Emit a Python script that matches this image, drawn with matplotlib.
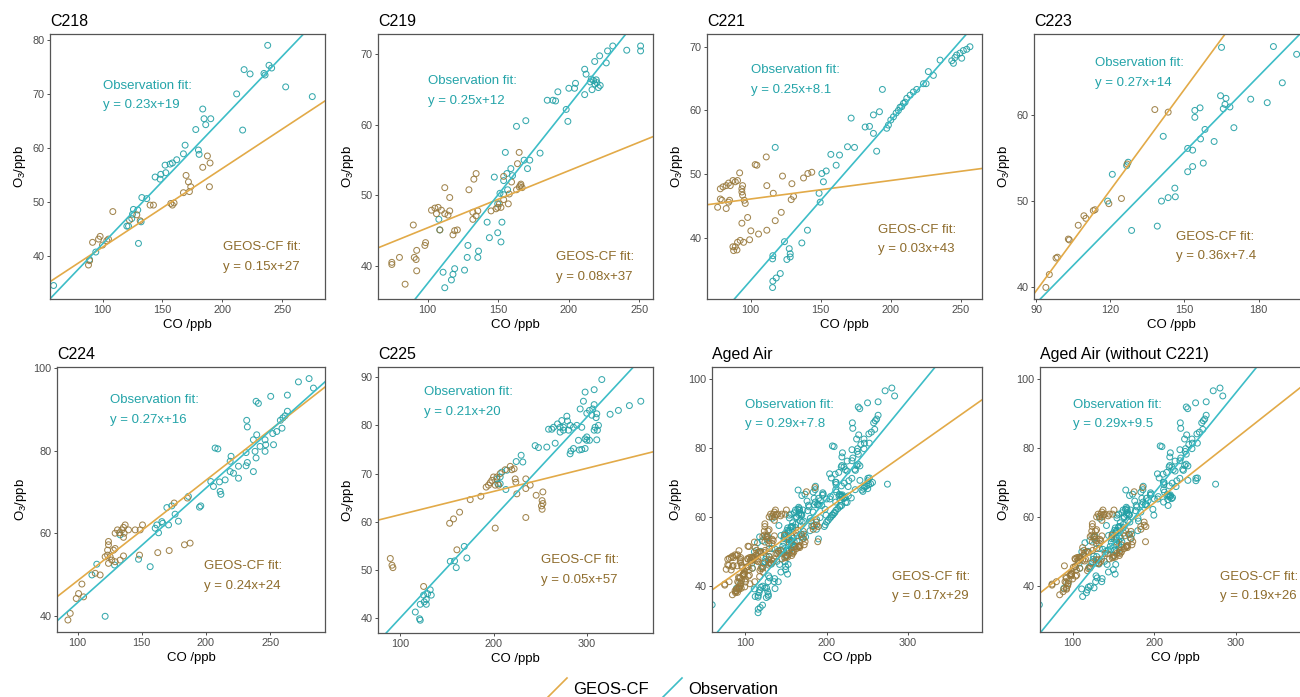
import numpy as np
import matplotlib
matplotlib.use("Agg")
import matplotlib.pyplot as plt
from matplotlib.lines import Line2D

plt.rcParams['font.family'] = ['Liberation Sans', 'DejaVu Sans']
plt.rcParams['mathtext.default'] = 'regular'

########## DATA
# (CO ppb, O3 ppb) pairs, observation and GEOS-CF
C218_OBS = [(237.8, 79.0), (238.9, 75.3), (241.1, 74.8), (218.1, 74.5), (223.1, 73.7), (234.7, 73.8),
            (235.6, 73.5), (252.8, 71.3), (275.0, 69.5), (211.9, 70.0), (216.9, 63.3), (183.6, 67.2),
            (184.7, 65.4), (186.1, 64.3), (190.3, 65.4), (177.8, 63.4), (168.9, 60.5), (167.5, 58.9),
            (180.0, 59.6), (180.6, 58.8), (161.9, 57.8), (158.3, 57.2), (156.4, 57.0), (152.2, 56.8),
            (152.8, 55.4), (148.6, 55.1), (148.1, 54.2), (143.9, 54.6), (136.9, 50.6), (132.8, 50.8),
            (125.8, 48.6), (125.0, 47.7), (124.4, 46.9), (120.3, 45.5), (121.7, 45.5), (132.2, 46.3),
            (130.0, 42.3), (94.4, 40.7), (89.2, 39.3), (59.2, 34.5), (129.4, 48.5)]
C218_GEOS = [(187.5, 58.5), (189.7, 57.2), (183.6, 56.4), (169.7, 54.9), (171.7, 53.7), (173.6, 52.8),
             (167.5, 51.7), (172.5, 51.9), (189.2, 52.8), (157.0, 49.7), (159.7, 49.8), (158.3, 49.4),
             (142.5, 49.4), (139.7, 49.4), (108.6, 48.2), (128.6, 47.6), (131.4, 46.5), (122.5, 46.6),
             (91.7, 42.5), (98.0, 43.6), (96.7, 43.1), (100.0, 42.0), (103.6, 42.8), (105.0, 43.1),
             (89.2, 39.1), (88.3, 38.3)]

C219_OBS = [(231.2, 71.2), (241.1, 70.6), (250.9, 71.2), (250.9, 70.5), (227.5, 70.5), (226.6, 68.8),
            (218.4, 69.0), (221.9, 69.8), (211.3, 67.9), (212.3, 67.2), (211.3, 64.3), (215.3, 66.1),
            (217.6, 66.3), (220.0, 66.0), (222.3, 65.6), (216.5, 65.0), (218.5, 65.8), (219.5, 66.4),
            (216.0, 66.5), (221.0, 65.3), (204.1, 65.2), (204.8, 65.9), (200.1, 65.2), (198.2, 62.2),
            (199.4, 60.5), (192.3, 64.7), (190.7, 63.4), (184.8, 63.5), (188.8, 63.5), (163.0, 59.8),
            (169.6, 60.6), (179.7, 56.0), (155.1, 56.1), (172.4, 55.0), (168.4, 55.0), (170.8, 53.8),
            (147.3, 52.6), (156.2, 53.1), (159.0, 53.8), (160.2, 52.8), (153.9, 52.1), (151.3, 50.3),
            (153.9, 50.1), (156.7, 50.8), (149.7, 48.8), (142.2, 46.2), (152.7, 46.2), (149.7, 44.7),
            (152.0, 43.4), (143.8, 44.0), (128.6, 42.9), (128.1, 41.2), (136.1, 42.1), (135.6, 41.2),
            (126.2, 39.4), (119.2, 39.6), (118.0, 38.8), (116.9, 38.0), (112.2, 36.9), (111.0, 39.1),
            (108.0, 46.6), (108.7, 45.1)]
C219_GEOS = [(164.9, 56.1), (153.9, 52.7), (163.7, 54.5), (159.5, 51.9), (166.1, 51.6), (165.0, 51.2),
             (166.0, 51.4), (163.0, 50.8), (167.0, 51.1), (157.9, 50.2), (157.2, 48.8), (153.9, 49.4),
             (149.7, 48.3), (150.9, 48.8), (152.0, 48.3), (148.5, 48.1), (145.0, 47.8), (134.4, 53.1),
             (132.8, 52.3), (129.3, 50.8), (112.2, 51.1), (115.7, 49.7), (107.5, 48.3), (109.8, 47.9),
             (102.8, 47.9), (105.2, 48.2), (106.3, 47.4), (112.2, 47.4), (115.7, 47.8), (114.5, 47.2),
             (132.1, 47.6), (135.6, 47.8), (134.4, 47.1), (132.1, 46.6), (119.2, 45.0), (121.1, 45.1),
             (118.0, 44.4), (108.7, 45.1), (89.9, 45.8), (98.6, 43.3), (98.1, 42.9), (92.3, 42.2),
             (90.6, 41.2), (91.9, 40.9), (80.1, 41.2), (74.7, 40.5), (74.7, 40.2), (84.1, 37.4),
             (92.3, 39.3)]

C221_OBS = [(256.6, 70.0), (254.3, 69.6), (251.9, 69.4), (249.5, 69.0), (247.1, 68.7), (245.9, 68.3),
            (243.6, 67.8), (244.8, 67.4), (250.7, 68.2), (235.3, 67.9), (230.5, 65.5), (226.9, 66.1),
            (225.3, 64.2), (223.4, 64.2), (218.6, 63.3), (216.2, 62.9), (213.9, 62.4), (211.5, 61.9),
            (210.3, 61.3), (209.1, 61.1), (207.9, 60.6), (206.7, 60.5), (205.5, 60.0), (203.9, 59.6),
            (202.0, 59.0), (200.1, 58.5), (198.4, 57.7), (197.2, 57.2), (194.1, 63.3), (192.0, 59.8),
            (187.7, 59.3), (184.9, 57.5), (181.8, 57.4), (187.7, 56.4), (190.0, 53.6), (171.8, 58.8),
            (169.2, 54.3), (174.2, 54.2), (163.5, 53.0), (157.3, 53.1), (161.1, 51.4), (154.0, 50.5),
            (150.9, 50.1), (152.0, 48.8), (148.9, 47.0), (149.7, 45.6), (140.6, 41.2), (136.6, 39.2),
            (124.2, 39.4), (127.6, 38.3), (128.3, 37.5), (128.3, 37.0), (125.9, 36.6), (115.9, 37.2),
            (115.7, 36.7), (117.6, 54.2), (121.2, 34.4), (118.3, 33.7), (115.9, 33.2), (115.7, 32.2)]
C221_GEOS = [(76.5, 44.8), (78.4, 46.1), (79.6, 45.9), (78.4, 47.7), (80.3, 48.0), (82.6, 48.2),
             (84.3, 48.6), (85.5, 48.2), (87.4, 49.0), (89.1, 48.8), (90.7, 49.0), (92.2, 50.2),
             (93.8, 47.7), (94.3, 48.2), (93.8, 47.2), (94.3, 46.7), (95.5, 45.9), (96.2, 45.4),
             (84.3, 45.6), (82.6, 44.6), (85.0, 45.9), (93.8, 42.3), (97.9, 43.2), (100.2, 41.1),
             (99.3, 39.7), (92.6, 39.6), (95.0, 39.3), (90.7, 39.3), (89.1, 38.6), (87.9, 38.0),
             (87.4, 38.6), (90.3, 38.1), (105.7, 40.6), (111.6, 41.2), (111.6, 48.2), (111.2, 52.7),
             (103.3, 51.5), (104.5, 51.4), (116.2, 47.0), (117.6, 42.7), (121.9, 44.0), (122.8, 49.7),
             (129.5, 48.5), (130.7, 46.5), (129.0, 46.0), (137.8, 49.4), (140.9, 50.1), (143.7, 50.3)]

C223_OBS = [(165.0, 67.8), (186.0, 67.9), (195.4, 67.0), (189.6, 63.7), (164.6, 62.2), (166.8, 61.9),
            (166.4, 61.2), (165.7, 60.7), (168.4, 60.9), (176.8, 61.8), (183.5, 61.4), (156.3, 60.8),
            (154.2, 60.5), (154.2, 59.7), (158.3, 58.3), (170.0, 58.5), (162.0, 56.9), (156.5, 57.2),
            (141.4, 57.5), (151.3, 56.1), (153.3, 55.9), (157.6, 54.4), (153.3, 54.0), (151.3, 53.4),
            (146.1, 51.5), (146.3, 50.5), (143.4, 50.4), (140.7, 50.0), (139.0, 47.1), (128.6, 46.6),
            (120.8, 53.1), (127.2, 54.5), (126.6, 54.1), (118.9, 50.0)]
C223_GEOS = [(138.0, 60.6), (143.4, 60.3), (126.8, 54.3), (124.5, 50.3), (119.4, 49.7), (113.8, 49.0),
             (113.1, 48.9), (109.3, 48.3), (110.1, 48.0), (107.0, 47.2), (103.0, 45.6), (103.4, 45.5),
             (98.6, 43.5), (98.0, 43.4), (95.3, 41.5), (93.9, 40.0)]

C224_OBS = [(280.4, 97.4), (272.1, 96.6), (283.8, 95.1), (263.5, 93.4), (250.5, 93.1), (239.1, 91.9),
            (240.9, 91.4), (231.8, 87.3), (232.3, 85.7), (263.5, 89.5), (261.7, 88.4), (260.0, 87.9),
            (258.0, 87.3), (259.3, 85.4), (252.1, 84.1), (255.2, 84.6), (239.6, 83.8), (237.0, 82.6),
            (242.2, 81.0), (246.1, 82.6), (246.6, 81.4), (252.7, 81.4), (246.1, 79.8), (238.3, 79.8),
            (239.1, 78.2), (231.3, 79.5), (232.3, 77.1), (231.3, 76.3), (237.0, 74.9), (225.4, 76.2),
            (218.9, 77.4), (219.6, 78.6), (207.2, 80.6), (209.3, 80.4), (218.9, 74.9), (221.5, 74.5),
            (225.4, 73.3), (215.0, 72.9), (203.8, 72.5), (205.9, 71.3), (210.6, 72.4), (211.1, 70.1),
            (211.7, 69.4), (196.0, 66.6), (195.0, 66.3), (186.4, 68.9), (173.4, 66.6), (169.6, 66.2),
            (165.7, 62.8), (166.4, 62.4), (161.8, 62.0), (170.9, 62.0), (178.6, 62.9), (163.1, 60.1),
            (160.5, 61.2), (156.6, 51.9), (147.5, 53.7), (128.8, 52.3), (115.0, 52.5), (111.2, 49.9),
            (121.5, 39.9), (176.0, 64.6), (133.2, 59.6)]
C224_GEOS = [(185.6, 68.5), (175.3, 67.3), (187.7, 57.6), (183.3, 57.2), (171.4, 55.8), (162.5, 55.3),
             (148.3, 54.7), (148.8, 60.8), (144.9, 60.8), (139.7, 60.8), (135.8, 61.4), (134.5, 60.8),
             (132.7, 60.1), (136.3, 60.0), (131.1, 60.8), (129.3, 60.0), (135.8, 59.0), (137.1, 62.0),
             (150.6, 62.0), (124.1, 58.0), (124.1, 57.2), (123.4, 55.9), (123.4, 54.7), (121.5, 54.3),
             (125.4, 54.3), (128.0, 55.9), (129.3, 56.3), (124.1, 52.7), (126.7, 53.5), (129.3, 53.1),
             (135.8, 54.5), (133.2, 53.5), (117.6, 49.9), (113.8, 50.3), (103.4, 47.7), (100.8, 45.4),
             (99.0, 44.2), (104.7, 44.6), (94.3, 40.6), (92.5, 39.0)]

C225_OBS = [(316.1, 89.5), (298.2, 86.9), (307.9, 87.4), (296.4, 85.0), (357.9, 85.0), (345.7, 84.1),
            (333.9, 83.1), (325.0, 82.3), (292.9, 83.4), (307.9, 84.3), (306.4, 83.4), (302.9, 83.1),
            (300.0, 82.5), (310.7, 82.4), (305.4, 82.1), (310.0, 81.6), (278.6, 81.9), (273.2, 81.0),
            (279.3, 80.9), (268.6, 80.3), (264.3, 79.6), (259.0, 79.2), (262.5, 79.2), (271.4, 79.6),
            (275.0, 79.6), (282.1, 80.0), (285.7, 79.6), (289.3, 80.0), (294.6, 79.6), (271.4, 78.6),
            (275.0, 79.0), (280.4, 79.0), (312.5, 80.0), (308.9, 79.6), (307.9, 79.0), (311.4, 79.0),
            (300.0, 77.6), (300.0, 76.9), (298.2, 77.2), (302.9, 76.9), (291.1, 76.9), (310.7, 77.0),
            (292.1, 74.9), (294.6, 75.0), (298.2, 75.2), (283.0, 74.7), (285.7, 75.2), (282.1, 74.1),
            (266.1, 76.3), (257.1, 75.5), (244.6, 75.8), (248.2, 75.4), (229.6, 73.8), (231.4, 72.4),
            (224.3, 72.5), (214.3, 70.7), (208.9, 70.3), (207.1, 69.3), (203.6, 68.9), (207.1, 67.9),
            (204.6, 67.9), (213.2, 66.7), (171.4, 52.5), (168.6, 54.9), (158.2, 51.9), (153.6, 51.8),
            (160.0, 50.5), (132.1, 45.9), (133.2, 44.8), (129.3, 45.1), (127.9, 43.9), (125.7, 43.4),
            (127.9, 42.9), (121.4, 42.9), (125.0, 44.8), (116.1, 41.3), (120.7, 39.9), (121.4, 39.6)]
C225_GEOS = [(212.5, 70.8), (217.9, 71.5), (219.6, 70.8), (222.1, 71.0), (207.1, 70.0), (203.6, 69.3),
             (200.0, 69.3), (198.2, 68.6), (196.4, 68.1), (194.6, 67.6), (192.1, 67.2), (201.8, 67.6),
             (205.4, 67.6), (223.2, 68.9), (223.9, 68.2), (234.6, 68.9), (239.3, 67.6), (234.6, 66.9),
             (225.0, 65.8), (245.7, 65.5), (252.9, 66.2), (252.1, 64.4), (252.9, 63.8), (251.4, 63.3),
             (252.1, 62.6), (234.6, 60.9), (201.8, 58.7), (186.4, 65.3), (175.0, 64.6), (163.6, 62.0),
             (157.1, 60.6), (152.9, 59.7), (160.7, 54.2), (125.0, 46.6), (89.3, 52.4), (91.1, 51.0),
             (92.1, 50.5)]

# aged air = all aged-air flights pooled
AGED_OBS = C218_OBS + C219_OBS + C221_OBS + C223_OBS + C224_OBS
AGED_GEOS = C218_GEOS + C219_GEOS + C221_GEOS + C223_GEOS + C224_GEOS
AGED_NO221_OBS = C218_OBS + C219_OBS + C223_OBS + C224_OBS
AGED_NO221_GEOS = C218_GEOS + C219_GEOS + C223_GEOS + C224_GEOS

TITLES = ["C218", "C219", "C221", "C223", "C224", "C225", "Aged Air", "Aged Air (without C221)"]
OBS_DATA = [C218_OBS, C219_OBS, C221_OBS, C223_OBS, C224_OBS, C225_OBS, AGED_OBS, AGED_NO221_OBS]
GEOS_DATA = [C218_GEOS, C219_GEOS, C221_GEOS, C223_GEOS, C224_GEOS, C225_GEOS, AGED_GEOS, AGED_NO221_GEOS]

# fit lines (slope, intercept) as drawn
OBS_SLOPE = [0.232, 0.252, 0.251, 0.292, 0.277, 0.208, 0.287, 0.291]
OBS_INTERCEPT = [19.0, 12.3, 8.2, 11.9, 15.5, 19.3, 7.7, 8.8]
GEOS_SLOPE = [0.146, 0.081, 0.029, 0.389, 0.243, 0.048, 0.166, 0.187]
GEOS_INTERCEPT = [27.0, 37.3, 43.2, 4.6, 24.2, 56.7, 29.0, 26.7]
OBS_LABEL = ["y = 0.23x+19", "y = 0.25x+12", "y = 0.25x+8.1", "y = 0.27x+14",
             "y = 0.27x+16", "y = 0.21x+20", "y = 0.29x+7.8", "y = 0.29x+9.5"]
GEOS_LABEL = ["y = 0.15x+27", "y = 0.08x+37", "y = 0.03x+43", "y = 0.36x+7.4",
              "y = 0.24x+24", "y = 0.05x+57", "y = 0.17x+29", "y = 0.19x+26"]

XTICKS = [[100, 150, 200, 250], [100, 150, 200, 250], [100, 150, 200, 250], [90, 120, 150, 180],
          [100, 150, 200, 250], [100, 200, 300], [100, 200, 300], [100, 200, 300]]
YTICKS = [[40, 50, 60, 70, 80], [40, 50, 60, 70], [40, 50, 60, 70], [40, 50, 60],
          [40, 60, 80, 100], [40, 50, 60, 70, 80, 90], [40, 60, 80, 100], [40, 60, 80, 100]]

########## LAYOUT
XLIM = [(56.2, 285.6), (64.9, 259.7), (68.9, 265.2), (89.1, 200.4),
        (84.0, 292.8), (76.1, 371.0), (59.0, 391.4), (60.0, 390.6)]
YLIM = [(32.0, 81.1), (35.3, 72.9), (30.4, 72.0), (38.66, 69.35),
        (36.1, 100.2), (36.95, 92.1), (26.6, 103.5), (26.6, 103.5)]
# left, top, width, height in pixels
POS_PX = [(50, 34, 275, 265), (378, 34, 275, 265), (707, 34, 275, 265), (1034, 34, 275, 265),
          (57, 367, 268, 265), (378, 367, 275, 266), (712, 367, 270, 265), (1040, 367, 270, 265)]
OBS_TXT_POS = [(0.193, 0.805), (0.18, 0.823), (0.161, 0.864), (0.222, 0.889),
               (0.199, 0.874), (0.169, 0.906), (0.123, 0.858), (0.123, 0.858)]
GEOS_TXT_POS = [(0.628, 0.195), (0.646, 0.157), (0.623, 0.261), (0.516, 0.235),
                (0.549, 0.248), (0.592, 0.273), (0.666, 0.209), (0.667, 0.209)]

W, H = 1300, 697
TEAL_LINE = '#3dbdc7'
TEAL_PT = '#22a0a5'
ORANGE_LINE = '#e2aa48'
ORANGE_PT = '#98793c'
TEAL_TXT = '#24a4a9'
ORANGE_TXT = '#8e6c2c'

fig = plt.figure(figsize=(W / 100, H / 100), dpi=100)

for i in range(8):
    l, t, w, h = POS_PX[i]
    ax = fig.add_axes([l / W, 1 - (t + h) / H, w / W, h / H])
    obs = np.array(OBS_DATA[i])
    geos = np.array(GEOS_DATA[i])
    ax.scatter(obs[:, 0], obs[:, 1], s=18, facecolors='none', edgecolors=TEAL_PT, linewidths=0.75, alpha=0.9)
    ax.scatter(geos[:, 0], geos[:, 1], s=18, facecolors='none', edgecolors=ORANGE_PT, linewidths=0.75, alpha=0.9)
    ax.axline((0, GEOS_INTERCEPT[i]), slope=GEOS_SLOPE[i], color=ORANGE_LINE, lw=1.2)
    ax.axline((0, OBS_INTERCEPT[i]), slope=OBS_SLOPE[i], color=TEAL_LINE, lw=1.2)
    ax.set_xlim(XLIM[i])
    ax.set_ylim(YLIM[i])
    ax.set_xticks(XTICKS[i])
    ax.set_yticks(YTICKS[i])
    ax.tick_params(axis='both', labelsize=7.8, labelcolor='#4d4d4d', color='#333333',
                   length=2.5, width=0.6, pad=1.5)
    for sp in ax.spines.values():
        sp.set_color('#555555')
        sp.set_linewidth(0.9)
    ax.set_title(TITLES[i], loc='left', fontsize=11.5, pad=6)
    ax.set_xlabel("CO /ppb", fontsize=9.5, labelpad=3.5)
    ax.set_ylabel("O$_3$/ppb", fontsize=9.5, labelpad=3)

    ox, oy = OBS_TXT_POS[i]
    ax.text(ox, oy, "Observation fit:", transform=ax.transAxes, color=TEAL_TXT, fontsize=9.5, va='center')
    ax.text(ox, oy - 0.074, OBS_LABEL[i], transform=ax.transAxes, color=TEAL_TXT, fontsize=9.5, va='center')
    gx, gy = GEOS_TXT_POS[i]
    ax.text(gx, gy, "GEOS-CF fit:", transform=ax.transAxes, color=ORANGE_TXT, fontsize=9.5, va='center')
    ax.text(gx, gy - 0.074, GEOS_LABEL[i], transform=ax.transAxes, color=ORANGE_TXT, fontsize=9.5, va='center')

##### legend (diagonal keys like the ggplot abline legend)
fig.add_artist(Line2D([548 / W, 567 / W], [1 - 697 / H, 1 - 678 / H], color=ORANGE_LINE, lw=1.2))
fig.text(573 / W, 1 - 690 / H, "GEOS-CF", fontsize=12, va='center')
fig.add_artist(Line2D([663 / W, 682 / W], [1 - 697 / H, 1 - 678 / H], color=TEAL_LINE, lw=1.2))
fig.text(688 / W, 1 - 690 / H, "Observation", fontsize=12, va='center')

fig.savefig("out.png", dpi=100)
